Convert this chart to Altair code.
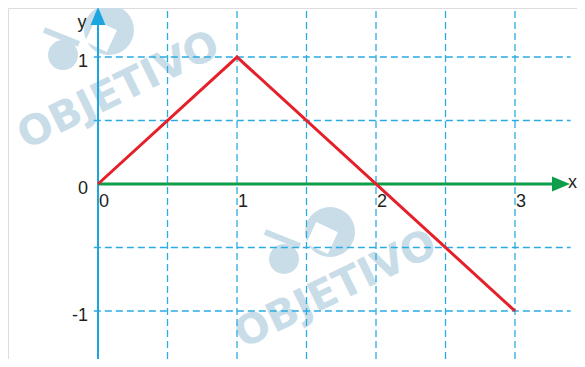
import altair as alt
import pandas as pd

# ---- data ----
line_x = [0, 1, 3]
line_y = [0, 1, -1]

grid_x = [0.5, 1, 1.5, 2, 2.5, 3]
grid_y = [-1, -0.5, 0.5, 1]

xtick_vals = [0, 1, 2, 3]
xtick_labels = ["0", "1", "2", "3"]
ytick_vals = [1, 0, -1]
ytick_labels = ["1", "0", "-1"]

# watermark (logo + word), in data units
wm_text_x = [0.1511, 1.7123]
wm_text_y = [0.7323, -0.8346]
wm_big_x = [0.0791, 1.6691]
wm_big_y = [1.2126, -0.3780]
wm_hole_x = [0.0216, 1.6115]
wm_hole_y = [1.1654, -0.4252]
wm_small_x = [-0.2518, 1.3381]
wm_small_y = [1.0157, -0.5906]
wm_bar_x1 = [-0.3885, 1.2014]
wm_bar_x2 = [-0.1367, 1.4532]
wm_bar_y1 = [1.2126, -0.3780]
wm_bar_y2 = [1.1024, -0.4882]

XMIN, XMAX = -0.6475, 3.446
YMIN, YMAX = -1.378, 1.386

xs = alt.Scale(domain=[XMIN, XMAX], nice=False, zero=False)
ys = alt.Scale(domain=[YMIN, YMAX], nice=False, zero=False)

def X(f):
    return alt.X(f, type="quantitative", scale=xs, axis=None)

def Y(f):
    return alt.Y(f, type="quantitative", scale=ys, axis=None)

WM = "#c8dde8"
GRID = "#2aace3"
YAX = "#1ba6e3"
GREEN = "#0c9e4a"
RED = "#e5202a"
TXT = "#231f20"

# watermark
wm_df = pd.DataFrame({"x": wm_text_x, "y": wm_text_y, "t": ["OBJETIVO", "OBJETIVO"]})
wm_text = alt.Chart(wm_df).mark_text(
    angle=334, font="DejaVu Sans", fontWeight="bold", fontSize=41, color=WM,
    align="center", baseline="middle"
).encode(x=X("x"), y=Y("y"), text="t:N")

wm_big = alt.Chart(pd.DataFrame({"x": wm_big_x, "y": wm_big_y})).mark_point(
    filled=True, shape="circle", size=2500, color=WM, opacity=1, strokeWidth=0
).encode(x=X("x"), y=Y("y"))
wm_hole = alt.Chart(pd.DataFrame({"x": wm_hole_x, "y": wm_hole_y})).mark_point(
    filled=True, shape="M0.363,1L1,-0.363L-0.363,-1L-1,0.363Z", size=1024,
    color="white", opacity=1, strokeWidth=0
).encode(x=X("x"), y=Y("y"))
wm_small = alt.Chart(pd.DataFrame({"x": wm_small_x, "y": wm_small_y})).mark_point(
    filled=True, shape="circle", size=900, color=WM, opacity=1, strokeWidth=0
).encode(x=X("x"), y=Y("y"))
wm_bar = alt.Chart(pd.DataFrame({"x1": wm_bar_x1, "x2": wm_bar_x2,
                                 "y1": wm_bar_y1, "y2": wm_bar_y2})).mark_rule(
    color=WM, strokeWidth=6
).encode(x=X("x1"), x2="x2", y=Y("y1"), y2="y2")

# grid
vg_df = pd.DataFrame({"x": grid_x, "y1": [YMIN] * len(grid_x), "y2": [YMAX] * len(grid_x)})
vgrid = alt.Chart(vg_df).mark_rule(
    color=GRID, strokeWidth=1.3, strokeDash=[7, 4]
).encode(x=X("x"), y=Y("y1"), y2="y2")

hg_df = pd.DataFrame({"y": grid_y, "x1": [-0.03] * len(grid_y), "x2": [3.4] * len(grid_y)})
hgrid = alt.Chart(hg_df).mark_rule(
    color=GRID, strokeWidth=1.3, strokeDash=[7, 4]
).encode(y=Y("y"), x=X("x1"), x2="x2")

# axes
yax_df = pd.DataFrame({"x": [0], "y1": [YMIN], "y2": [1.27]})
yaxis = alt.Chart(yax_df).mark_rule(color=YAX, strokeWidth=2).encode(
    x=X("x"), y=Y("y1"), y2="y2")
yarrow = alt.Chart(pd.DataFrame({"x": [0], "y": [1.323]})).mark_point(
    filled=True, shape="M-0.83,1L0.83,1L0,-1Z", size=324, color=YAX, opacity=1, strokeWidth=0
).encode(x=X("x"), y=Y("y"))

xax_df = pd.DataFrame({"y": [0], "x1": [0], "x2": [3.29]})
xaxis = alt.Chart(xax_df).mark_rule(color=GREEN, strokeWidth=3).encode(
    y=Y("y"), x=X("x1"), x2="x2")
xarrow = alt.Chart(pd.DataFrame({"x": [3.331], "y": [0]})).mark_point(
    filled=True, shape="M-1,-0.83L1,0L-1,0.83Z", size=324, color=GREEN, opacity=1, strokeWidth=0
).encode(x=X("x"), y=Y("y"))

# function line
fn = alt.Chart(pd.DataFrame({"x": line_x, "y": line_y})).mark_line(
    color=RED, strokeWidth=3, strokeJoin="miter"
).encode(x=X("x"), y=Y("y"))

# labels
xl = alt.Chart(pd.DataFrame({"x": xtick_vals, "y": [0] * 4, "t": xtick_labels})).mark_text(
    font="Liberation Sans", fontSize=18, color=TXT, align="center", baseline="middle", dx=6, dy=18
).encode(x=X("x"), y=Y("y"), text="t:N")

yl = alt.Chart(pd.DataFrame({"x": [0] * 3, "y": ytick_vals, "t": ytick_labels})).mark_text(
    font="Liberation Sans", fontSize=18, color=TXT, align="right", baseline="middle", dx=-10, dy=5
).encode(x=X("x"), y=Y("y"), text="t:N")

xlab = alt.Chart(pd.DataFrame({"x": [XMAX], "y": [0], "t": ["x"]})).mark_text(
    font="Liberation Sans", fontSize=18, color=TXT, align="right", baseline="middle", dy=-1
).encode(x=X("x"), y=Y("y"), text="t:N")
ylab = alt.Chart(pd.DataFrame({"x": [0], "y": [0], "t": ["y"]})).mark_text(
    font="Liberation Sans", fontSize=18, color=TXT, align="center", baseline="middle", dx=-16, dy=-161
).encode(x=X("x"), y=Y("y"), text="t:N")

chart = alt.layer(
    wm_text, wm_bar, wm_small, wm_big, wm_hole,
    vgrid, hgrid, yaxis, yarrow, xaxis, xarrow, fn, xl, yl, xlab, ylab
).properties(
    width=569, height=351, autosize=alt.AutoSizeParams(type="none"), padding=0
).configure_view(stroke=None).configure(background="white")

chart.save("out.html", embed_options={"renderer": "svg", "actions": False})
